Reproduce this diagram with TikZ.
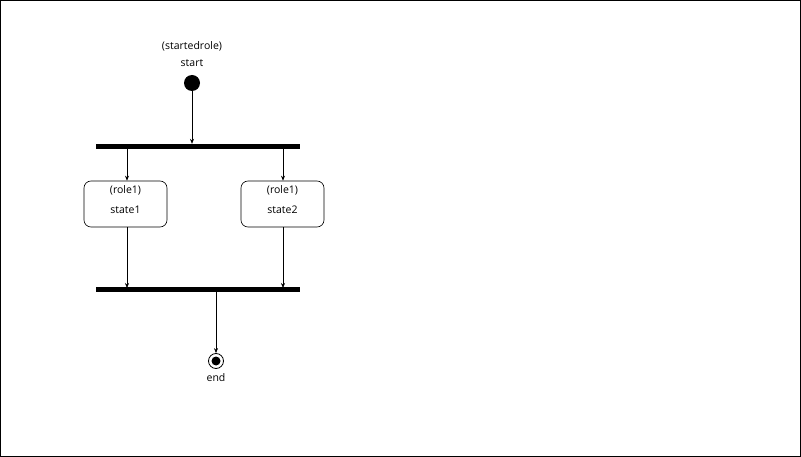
\documentclass[tikz,border=0pt]{standalone}
\usepackage{fontspec}
\setmainfont{Open Sans}
\usetikzlibrary{arrows.meta}
\begin{document}
\begin{tikzpicture}[x=1pt,y=-1pt,
  lbl/.style={font=\fontsize{10.5}{12}\selectfont, inner sep=0pt},
  bar/.style={fill=black, draw=none, minimum width=204pt, minimum height=5pt, inner sep=0pt},
  statebox/.style={draw, rounded corners=7pt, minimum width=83pt, minimum height=46pt, inner sep=0pt, line width=0.6pt},
  boxtext/.style={font=\fontsize{10.5}{20}\selectfont, align=center, inner sep=0pt},
  flow/.style={-{Stealth[length=5pt,width=4pt]}, line width=0.6pt}]
\useasboundingbox (0,0) rectangle (801,457);
\draw[line width=1pt] (0.5,0.5) rectangle (800.5,456.5);
\node[lbl] (startlbl1) at (192,46) {(startedrole)};
\node[lbl] (startlbl2) at (192,63) {start};
\node[circle, fill=black, minimum size=16pt, inner sep=0pt] (start) at (192,83) {};
\node[bar] (fork) at (198,146.5) {};
\node[statebox] (s1) at (125.5,204) {};
\node[boxtext] (s1a) at (125.5,190) {(role1)};
\node[boxtext] (s1b) at (125.5,210) {state1};
\node[statebox] (s2) at (282.5,204) {};
\node[boxtext] (s2a) at (282.5,190) {(role1)};
\node[boxtext] (s2b) at (282.5,210) {state2};
\node[bar] (join) at (198,290) {};
\node[circle, draw, line width=0.8pt, minimum size=15pt, inner sep=0pt] (endn) at (216,361) {};
\node[circle, fill=black, minimum size=9pt, inner sep=0pt] at (endn) {};
\node[lbl] (endlbl) at (216,378) {end};
\coordinate (f1) at (127,149);
\coordinate (f2) at (283,149);
\coordinate (j1) at (127,288);
\coordinate (j2) at (283,288);
\coordinate (j0) at (216,292);
\draw[flow] (start) -- (start |- fork.north);
\draw[flow] (f1) -- (f1 |- s1.north);
\draw[flow] (f2) -- (f2 |- s2.north);
\draw[flow] (j1 |- s1.south) -- (j1);
\draw[flow] (j2 |- s2.south) -- (j2);
\draw[flow] (j0) -- (endn.north);
\end{tikzpicture}
\end{document}
